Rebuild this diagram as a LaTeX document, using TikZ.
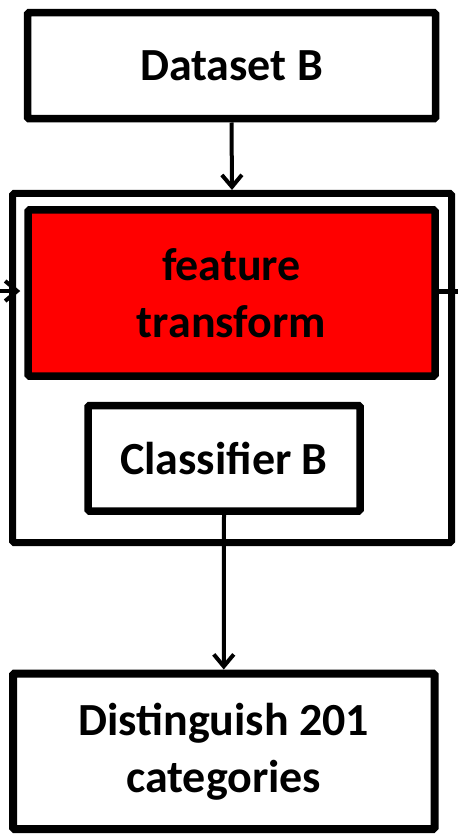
\documentclass[tikz,border=0pt]{standalone}
\usepackage{fontspec}
\setmainfont{Carlito}
\usetikzlibrary{arrows.meta}
\begin{document}
\begin{tikzpicture}[x=1pt,y=-1pt,
  box/.style={draw=black, line width=7.5pt, rounded corners=1.5pt, fill=white,
    inner sep=0pt, align=center, font=\fontsize{46}{57}\selectfont\bfseries},
  arr/.style={line width=4pt, -{Straight Barb[length=12pt,width=20pt,line width=4pt]}}]
\useasboundingbox (0,0) rectangle (461,834);
\fill[white] (0,0) rectangle (461,834);
\node[box, minimum width=408pt, minimum height=106pt] (dataset) at (231.5,65.75) {Dataset B};
\node[box, line width=7pt, minimum width=439pt, minimum height=349pt] (cont) at (232,368) {};
\node[box, fill=red, minimum width=407pt, minimum height=166pt] (red) at (231.5,293) {feature\\transform};
\node[box, minimum width=272pt, minimum height=105.5pt] (clf) at (224,458.25) {Classifier B};
\node[box, line width=8pt, minimum width=421.5pt, minimum height=155.5pt] (final) at (223.75,751.25) {Distinguish 201\\categories};
\coordinate (lin) at (-10,291);
\coordinate (rout) at (458,291);
\draw[arr] (dataset.south) -- (cont.north);
\draw[arr] (clf.south) -- (final.north);
\draw[arr, shorten >=4pt] (lin) -- ([yshift=2pt]red.west);
\draw[line width=5pt] ([yshift=2pt]red.east) -- (rout);
\end{tikzpicture}
\end{document}
